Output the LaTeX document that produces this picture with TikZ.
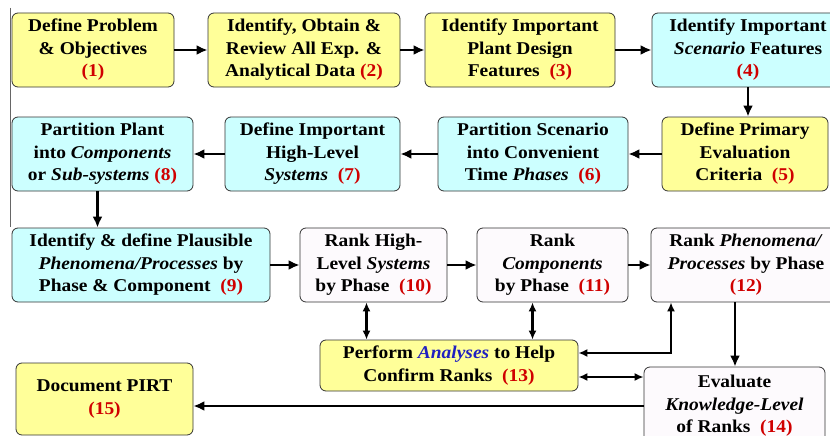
\documentclass[tikz,border=0pt]{standalone}
\usepackage{fontspec}
\setmainfont{Liberation Serif}
\newfontfamily\pirtfont{Liberation Serif}[FakeStretch=1.08]
\usepackage{xcolor}
\usetikzlibrary{arrows.meta,calc}

\definecolor{pirtyellow}{HTML}{FFFF99}
\definecolor{pirtcyan}{HTML}{CCFFFF}
\definecolor{pirtwhite}{HTML}{FDFAFD}
\definecolor{pirtred}{HTML}{D00000}
\definecolor{pirtblue}{HTML}{2020C0}
\newcommand{\pnum}[1]{\textcolor{pirtred}{(#1)}}

\tikzset{
  box/.style={draw=black!80, line width=0.8pt, rounded corners=6pt, align=center,
    inner sep=0pt, minimum height=74pt, font=\pirtfont\bfseries\fontsize{18}{22.5}\selectfont},
  ybox/.style={box, fill=pirtyellow},
  cbox/.style={box, fill=pirtcyan},
  wbox/.style={box, fill=pirtwhite},
  arr/.style={-{Latex[length=11pt,width=10pt]}, line width=2.8pt},
  dbl/.style={{Latex[length=9pt,width=8pt]}-{Latex[length=9pt,width=8pt]}, line width=2.2pt}
}

\begin{document}
\begin{tikzpicture}[x=1pt,y=-1pt]
\fill[white] (0,0) rectangle (830,436);
\useasboundingbox (0,0) rectangle (830,436);
\draw[black!60, line width=0.8pt] (10,8) -- (10,227);

% row 1
\node[ybox, minimum width=162pt] (b1) at (93,50) {Define Problem\\ \& Objectives\\ \pnum{1}};
\node[ybox, minimum width=192pt] (b2) at (304,50) {Identify, Obtain \&\\ Review All Exp. \&\\ Analytical Data \pnum{2}};
\node[ybox, minimum width=190pt] (b3) at (520,50) {Identify Important\\ Plant Design\\ Features~~\pnum{3}};
\node[cbox, minimum width=192pt] (b4) at (748,50) {Identify Important\\ \textit{Scenario} Features\\ \pnum{4}};

% row 2
\node[ybox, minimum width=166pt] (b5) at (745,154) {Define Primary\\ Evaluation\\ Criteria~~\pnum{5}};
\node[cbox, minimum width=190pt] (b6) at (533,154) {Partition Scenario\\ into Convenient\\ Time \textit{Phases}~~\pnum{6}};
\node[cbox, minimum width=175pt] (b7) at (312.5,154) {Define Important\\ High-Level\\ \textit{Systems}~~\pnum{7}};
\node[cbox, minimum width=181pt] (b8) at (102.5,154) {Partition Plant\\ into \textit{Components}\\ or \textit{Sub-systems} \pnum{8}};

% row 3
\node[cbox, minimum width=258pt] (b9) at (141,265) {Identify \& define Plausible\\ \textit{Phenomena/Processes} by\\ Phase \& Component~~\pnum{9}};
\node[wbox, minimum width=147pt] (b10) at (373.5,265) {Rank High-\\ Level \textit{Systems}\\ by Phase~~\pnum{10}};
\node[wbox, minimum width=151pt] (b11) at (552.5,265) {Rank\\ \textit{Components}\\ by Phase~~\pnum{11}};
\node[wbox, minimum width=190pt] (b12) at (746,265) {Rank \textit{Phenomena/}\\ \textit{Processes} by Phase\\ \pnum{12}};

% row 4
\node[ybox, minimum width=258pt, minimum height=51pt] (b13) at (449,365.5) {Perform \textcolor{pirtblue}{\textit{Analyses}} to Help\\ Confirm Ranks~~\pnum{13}};
\node[wbox, minimum width=181pt, minimum height=78pt] (b14) at (734.5,406) {Evaluate\\ \textit{Knowledge-Level}\\ of Ranks~~\pnum{14}};
\node[ybox, minimum width=177pt, minimum height=72pt] (b15) at (104.5,399) {Document PIRT\\ \pnum{15}};

% main flow
\draw[arr] (b1) -- (b2);
\draw[arr] (b2) -- (b3);
\draw[arr] (b3) -- (b4);
\draw[arr] (b4.south) -- (b4.south |- b5.north);
\draw[arr] (b5) -- (b6);
\draw[arr] (b6) -- (b7);
\draw[arr] (b7) -- (b8);
\draw[arr] ([xshift=-5pt]b8.south) -- ([xshift=-5pt]b8.south |- b9.north);
\draw[arr] (b9) -- (b10);
\draw[arr] (b10) -- (b11);
\draw[arr] (b11) -- (b12);

% ranking checks
\draw[dbl] ([xshift=-7pt]b10.south) -- ([xshift=-7pt]b10.south |- b13.north);
\draw[dbl] ([xshift=-20pt]b11.south) -- ([xshift=-20pt]b11.south |- b13.north);
\draw[dbl] ([xshift=-75pt]b12.south) |- ([yshift=12.5pt]b13.east);
\draw[dbl] ([yshift=-11.5pt]b13.east) -- ([yshift=-11.5pt]b13.east -| b14.west);
\draw[arr, line width=2.4pt] ([xshift=-11pt]b12.south) -- ([xshift=-11pt]b12.south |- b14.north);
\draw[arr, line width=2.4pt] (b14.west) -- (b14.west -| b15.east);
\end{tikzpicture}
\end{document}
